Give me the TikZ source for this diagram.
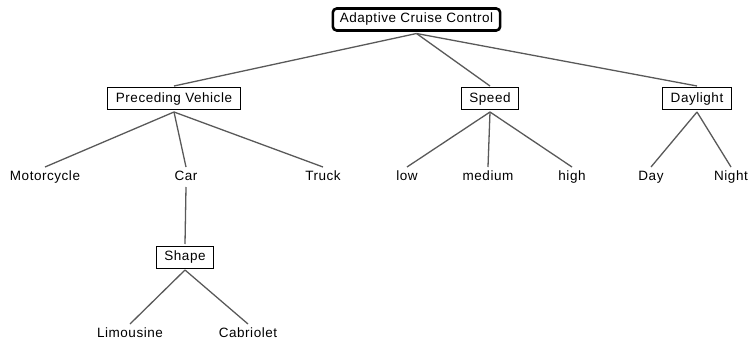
\documentclass[tikz,border=0pt]{standalone}
\usepackage{fontspec}
\setmainfont[LetterSpace=4]{Liberation Sans}
\begin{document}
\begin{tikzpicture}[x=1pt,y=-1pt,
  font=\fontsize{13.5}{15}\selectfont,
  box/.style={draw=black, line width=1pt, inner xsep=8pt, minimum height=22pt, outer sep=2pt, fill=white},
  rootbox/.style={draw=black, line width=2.6pt, rounded corners=4pt, inner xsep=7pt, minimum height=22pt, outer sep=3pt},
  leaf/.style={inner sep=0pt, text height=9.5pt, text depth=2.5pt, outer sep=4pt},
  edge/.style={draw=black!65, line width=1.3pt}]
\useasboundingbox (0,0) rectangle (756,345);
\node[rootbox] (acc) at (416.5,19.5) {Adaptive Cruise Control};
\node[box] (pv) at (174,99) {Preceding Vehicle};
\node[box] (sp) at (490,99) {Speed};
\node[box] (dl) at (697,99) {Daylight};
\node[leaf] (moto) at (45,177) {Motorcycle};
\node[leaf] (car) at (186,177) {Car};
\node[leaf] (truck) at (323,177) {Truck};
\node[leaf] (low) at (407,177) {low};
\node[leaf] (med) at (488,177) {medium};
\node[leaf] (high) at (572,177) {high};
\node[leaf] (day) at (651,177) {Day};
\node[leaf] (night) at (731,177) {Night};
\node[box] (shape) at (185,257) {Shape};
\node[leaf] (limo) at (130,334) {Limousine};
\node[leaf] (cab) at (248,334) {Cabriolet};
\draw[edge] (acc.south) -- (pv.north);
\draw[edge] (acc.south) -- (sp.north);
\draw[edge] (acc.south) -- (dl.north);
\draw[edge] (pv.south) -- (moto.north);
\draw[edge] (pv.south) -- (car.north);
\draw[edge] (pv.south) -- (truck.north);
\draw[edge] (sp.south) -- (low.north);
\draw[edge] (sp.south) -- (med.north);
\draw[edge] (sp.south) -- (high.north);
\draw[edge] (dl.south) -- (day.north);
\draw[edge] (dl.south) -- (night.north);
\draw[edge] (car.south) -- (shape.north);
\draw[edge] (shape.south) -- (limo.north);
\draw[edge] (shape.south) -- (cab.north);
\end{tikzpicture}
\end{document}
